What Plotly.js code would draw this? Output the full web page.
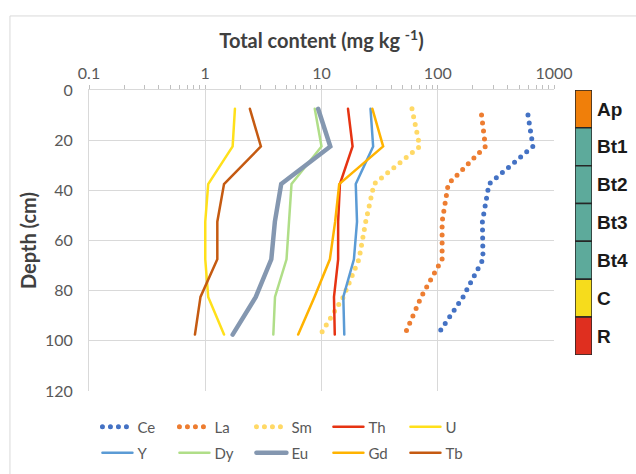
<!DOCTYPE html>
<html><head><meta charset="utf-8">
<script src="https://cdn.plot.ly/plotly-3.0.1.min.js"></script>
<style>
html,body{margin:0;padding:0;background:#fff;}
.scatterlayer path.js-line{stroke-linecap:round;}
.legendlines path{stroke-linecap:round;}
</style>
</head><body>
<div id="chart" style="width:636px;height:474px;"></div>
<script>
// Sample depths (cm)
var depth = [7.5, 22.5, 37.5, 52.5, 67.5, 82.5, 97.5];
var depthLaCe = [10, 22.5, 37.5, 52.5, 67.5, 82.5, 97.5];

// Total contents (mg/kg)
var Ce = [597, 659, 276, 242, 245, 165, 100];
var La = [238, 257, 123, 109, 109, 72, 52];
var Sm = [60, 70, 28.3, 24, 21, 15.4, 9.8];
var Th = [16.9, 18.5, 14.4, 13.9, 13.9, 12.8, 13.0];
var U  = [1.8, 1.72, 1.06, 1.0, 1.0, 1.06, 1.45];
var Yv = [26.4, 27.8, 19.7, 20.2, 19.0, 15.4, 15.7];
var Dy = [8.75, 10.0, 5.52, 5.25, 5.0, 3.98, 3.85];
var Eu = [9.35, 11.9, 4.5, 3.97, 3.7, 2.72, 1.72];
var Gd = [27.4, 33.9, 14.2, 13.1, 11.8, 8.7, 6.3];
var Tb = [2.42, 3.01, 1.45, 1.27, 1.27, 0.91, 0.815];

var xTickVals = [0.1, 1, 10, 100, 1000];
var xTickText = ['0.1', '1', '10', '100', '1000'];
var yTickVals = [0, 20, 40, 60, 80, 100, 120];

// Soil horizons
var horizons = ['Ap', 'Bt1', 'Bt2', 'Bt3', 'Bt4', 'C', 'R'];
var horizonColors = ['#F07F0A', '#5DAA9B', '#5DAA9B', '#5DAA9B', '#5DAA9B', '#F6DC1C', '#DF2F1F'];
var horizonIndex = [0, 1, 2, 3, 4, 5, 6];
var horizonHeight = [1, 1, 1, 1, 1, 1, 1];

var minorVals = [];
[0.1, 1, 10, 100].forEach(function(d){ for (var k = 2; k <= 9; k++) minorVals.push(d * k); });

function series(name, x, y, color, width, dotted, legend) {
  return {
    type: 'scatter', mode: 'lines', name: name, x: x, y: y,
    line: {color: color, width: width, dash: dotted ? '0px,8px' : 'solid'},
    legend: legend, hoverinfo: 'x+y+name'
  };
}

var traces = [
  series('Ce', Ce, depthLaCe, '#4472C4', 5, true, 'legend'),
  series('La', La, depthLaCe, '#ED7D31', 5, true, 'legend'),
  series('Sm', Sm, depth, '#FFD966', 5, true, 'legend'),
  series('Th', Th, depth, '#E63312', 2.5, false, 'legend'),
  series('U', U, depth, '#FFE01A', 2.5, false, 'legend'),
  series('Y', Yv, depth, '#5B9BD5', 2.5, false, 'legend2'),
  series('Dy', Dy, depth, '#B0DE88', 2.5, false, 'legend2'),
  series('Eu', Eu, depth, '#8497B0', 4.5, false, 'legend2'),
  series('Gd', Gd, depth, '#FFB300', 2.5, false, 'legend2'),
  series('Tb', Tb, depth, '#C55A11', 2.5, false, 'legend2'),
  {
    type: 'bar', x: horizonIndex.map(function(){return 0;}), y: horizonHeight, base: horizonIndex,
    width: 1, xaxis: 'x2', yaxis: 'y2', showlegend: false, hoverinfo: 'skip',
    marker: {color: horizonColors, line: {color: '#262626', width: 1.5}}
  }
];

var axisFont = {family: 'Lato, "Open Sans", sans-serif', size: 16, color: '#595959'};
var legendFont = {family: 'Lato, "Open Sans", sans-serif', size: 15, color: '#595959'};
var titleFont = {family: 'Lato, "Open Sans", sans-serif', size: 20, color: '#404040'};

var layout = {
  width: 636, height: 474,
  margin: {l: 89, r: 20, t: 90, b: 83},
  paper_bgcolor: '#fff', plot_bgcolor: '#fff',
  barmode: 'overlay',
  font: axisFont,
  xaxis: {
    type: 'log', range: [-1, 3], side: 'top', domain: [0, 0.8824],
    tickvals: xTickVals, ticktext: xTickText,
    ticks: 'outside', ticklen: 4, tickcolor: '#bfbfbf',
    minor: {tickvals: minorVals, ticks: 'outside', ticklen: 4, tickcolor: '#bfbfbf', showgrid: false},
    showgrid: true, gridcolor: '#d9d9d9', gridwidth: 1,
    showline: true, linecolor: '#d9d9d9', linewidth: 1,
    zeroline: false, tickfont: axisFont, automargin: false,
    title: {text: '<b>Total content (mg kg <sup>-1</sup>)</b>', font: titleFont, standoff: 8}
  },
  yaxis: {
    range: [120, 0], tickvals: yTickVals, domain: [0, 1],
    showgrid: true, gridcolor: '#d9d9d9', gridwidth: 1,
    showline: true, linecolor: '#d9d9d9', zeroline: false,
    ticks: '', ticklabelstandoff: 12, tickfont: axisFont, automargin: false,
    title: {text: '<b>Depth (cm)</b>', font: titleFont, standoff: 2}
  },
  xaxis2: {domain: [0.9222, 0.9545], range: [-0.5, 0.5], visible: false, anchor: 'y2', fixedrange: true},
  yaxis2: {
    domain: [0.12, 1], range: [7, 0], anchor: 'x2', side: 'right',
    tickvals: horizonIndex.map(function(i){return i + 0.5;}), ticktext: horizons.map(function(h){return '<b>' + h + '</b>';}),
    showgrid: false, zeroline: false, showline: false, ticks: '', ticklabelstandoff: 4,
    tickfont: {family: 'Liberation Sans, Arial, sans-serif', size: 19, color: '#1a1a1a'},
    automargin: false
  },
  legend: {
    orientation: 'h', x: 0.016, xanchor: 'left', yref: 'container', y: 0.0992, yanchor: 'middle',
    entrywidth: 32, entrywidthmode: 'pixels', font: legendFont, bgcolor: 'rgba(0,0,0,0)', tracegroupgap: 0
  },
  legend2: {
    orientation: 'h', x: 0.016, xanchor: 'left', yref: 'container', y: 0.0443, yanchor: 'middle',
    entrywidth: 32, entrywidthmode: 'pixels', font: legendFont, bgcolor: 'rgba(0,0,0,0)', tracegroupgap: 0
  },
  shapes: [{
    type: 'rect', xref: 'paper', yref: 'paper',
    x0: -0.15, x1: 1.2, y0: -0.4, y1: 1.246,
    line: {color: '#d9d9d9', width: 1}, fillcolor: 'rgba(0,0,0,0)', layer: 'below'
  }],
  showlegend: true
};

Plotly.newPlot('chart', traces, layout, {displayModeBar: false, staticPlot: true});
</script>
</body></html>
